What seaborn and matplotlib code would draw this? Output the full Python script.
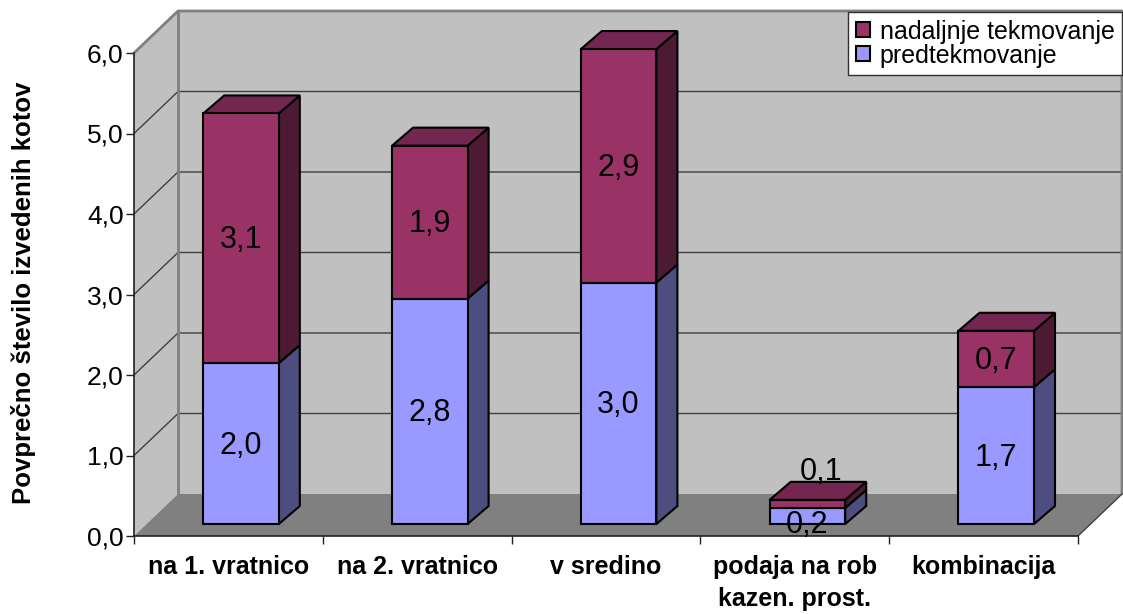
import numpy as np
import matplotlib
matplotlib.use("Agg")
import matplotlib.pyplot as plt
from matplotlib.patches import Polygon
import seaborn as sns

categories = ["na 1. vratnico", "na 2. vratnico", "v sredino", "podaja na rob\nkazen. prost.", "kombinacija"]
predtekmovanje = [2.0, 2.8, 3.0, 0.2, 1.7]
nadaljnje = [3.1, 1.9, 2.9, 0.1, 0.7]
y_ticks = [0, 1, 2, 3, 4, 5, 6]

W, H = 1123, 614
LEFT, RIGHT, Y0, Y6 = 134, 1078, 536, 53

sns.set_theme(style="ticks")
plt.rcParams["font.family"] = ["Liberation Sans", "DejaVu Sans"]

fig = plt.figure(figsize=(W / 100, H / 100), dpi=100)
ax = fig.add_axes([LEFT / W, 1 - Y0 / H, (RIGHT - LEFT) / W, (Y0 - Y6) / H])
ax.set_xlim(-0.567, 4.433)
ax.set_ylim(0, 6)

# pixel sizes -> data units
ux = (RIGHT - LEFT) / 5
uy = (Y0 - Y6) / 6
wall_dx, wall_dy = 44 / ux, 42 / uy
bar_dx, bar_dy = 21 / ux, 18 / uy
base = 12 / uy
xa, xb = ax.get_xlim()
top = y_ticks[-1]


def face(points, color, z, edge="none", lw=0):
    ax.add_patch(Polygon(points, closed=True, facecolor=color, edgecolor=edge, linewidth=lw,
                         zorder=z, clip_on=False, joinstyle="miter"))


# walls and floor
face([(xa, 0), (xa + wall_dx, wall_dy), (xa + wall_dx, top + wall_dy), (xa, top)], "#C0C0C0", 0.5)
face([(xa + wall_dx, wall_dy), (xb + wall_dx, wall_dy), (xb + wall_dx, top + wall_dy), (xa + wall_dx, top + wall_dy)],
     "#C0C0C0", 0.5)
face([(xa, 0), (xa + wall_dx, wall_dy), (xb + wall_dx, wall_dy), (xb, 0)], "#808080", 0.6)

for v in y_ticks[1:-1]:
    ax.plot([xa, xa + wall_dx, xb + wall_dx], [v, v + wall_dy, v + wall_dy], color="#404040", lw=1,
            zorder=0.7, clip_on=False)
ax.plot([xa, xa + wall_dx, xb + wall_dx, xb + wall_dx], [top, top + wall_dy, top + wall_dy, wall_dy],
        color="#808080", lw=2, zorder=0.8, clip_on=False)
ax.plot([xa + wall_dx, xa + wall_dx], [wall_dy, top + wall_dy], color="#808080", lw=2, zorder=0.8, clip_on=False)
ax.plot([xb, xb + wall_dx], [0, wall_dy], color="#404040", lw=1, zorder=0.8, clip_on=False)

# stacked bars, front faces
pred = np.array(predtekmovanje)
nad = np.array(nadaljnje)
sns.barplot(x=categories, y=pred, bottom=base, width=0.4, color="#9999FF", saturation=1,
            edgecolor="black", linewidth=1.5, zorder=3, ax=ax, label="predtekmovanje", clip_on=False)
sns.barplot(x=categories, y=nad, bottom=base + pred, width=0.4, color="#993366", saturation=1,
            edgecolor="black", linewidth=1.5, zorder=3, ax=ax, label="nadaljnje tekmovanje", clip_on=False)
ax.set_xlim(xa, xb)
ax.set_ylim(0, 6)

# depth faces built from the bars
n = len(categories)
for i, p in enumerate(ax.patches[-2 * n:]):
    if not hasattr(p, "get_width"):
        continue
    x0, y0, w, h = p.get_x(), p.get_y(), p.get_width(), p.get_height()
    side = "#4D4D80" if i < n else "#4D1A33"
    face([(x0 + w, y0), (x0 + w + bar_dx, y0 + bar_dy), (x0 + w + bar_dx, y0 + h + bar_dy), (x0 + w, y0 + h)],
         side, 2.5, "black", 1.5)
    if i >= n:
        face([(x0, y0 + h), (x0 + bar_dx, y0 + h + bar_dy), (x0 + w + bar_dx, y0 + h + bar_dy), (x0 + w, y0 + h)],
             "#732650", 2.5, "black", 1.5)

# value labels
for i in range(n):
    for val, start in ((pred[i], base), (nad[i], base + pred[i])):
        lx, ly = i, start + val / 2 - 2 / uy
        if val == 0.2:
            ly -= 7 / uy
        if val == 0.1:
            lx += 14 / ux
            ly += 34 / uy
        ax.text(lx, ly, f"{val:.1f}".replace(".", ","), ha="center", va="center", fontsize=22,
                color="black", zorder=5)

# axes
sns.despine(ax=ax, top=True, right=True)
for s in ("left", "bottom"):
    ax.spines[s].set_color("#202020")
    ax.spines[s].set_linewidth(1.2)
    ax.spines[s].set_zorder(1)
ax.set_yticks(y_ticks)
ax.set_yticklabels([f"{v:.1f}".replace(".", ",") for v in y_ticks], fontsize=19, color="black")
ax.set_xticks(np.arange(n + 1) + xa)
ax.set_xticklabels([])
ax.tick_params(axis="both", length=5.5, width=1, color="#202020", pad=2)
ax.set_xlabel("")

for i, c in enumerate(categories):
    ax.text(xa + i + 0.5, -19 / uy, c, ha="center", va="top", fontsize=18, fontweight="bold",
            linespacing=1.4, clip_on=False, color="black")

fig.text(24 / W, 1 - 293 / H, "Povprečno število izvedenih kotov", rotation=90, ha="center", va="center",
         fontsize=18.5, fontweight="bold", color="black")

# legend, upper right
h, l = ax.get_legend_handles_labels()
if ax.get_legend() is not None:
    ax.get_legend().remove()
leg = fig.legend(h[::-1], l[::-1], loc="upper right", bbox_to_anchor=(1122 / W, 1 - 12 / H), fontsize=18,
                 frameon=True, fancybox=False, framealpha=1, edgecolor="#303030", borderpad=0.3,
                 borderaxespad=0, labelspacing=0.0, handlelength=0.56, handleheight=0.56,
                 handletextpad=0.4, labelcolor="black")
leg.get_frame().set_linewidth(1)
leg.set_zorder(10)

fig.savefig("out.png", dpi=100)
